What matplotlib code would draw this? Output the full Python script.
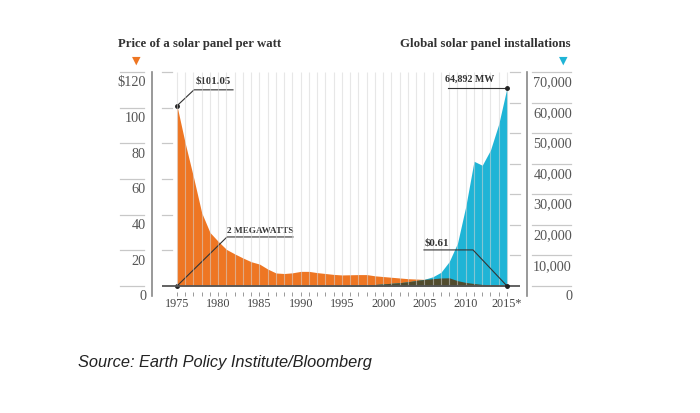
import matplotlib
matplotlib.use("Agg")
import matplotlib.pyplot as plt
import matplotlib.transforms as mtransforms
import numpy as np

# data
years = np.arange(1975, 2016)
price = [101.05, 80, 61, 41, 30, 25, 20.5, 18, 15.7, 13.6,
         12.3, 9.5, 7.3, 7.0, 7.4, 8.2, 8.2, 7.5, 7.0, 6.5,
         6.2, 6.3, 6.4, 6.4, 5.7, 5.3, 4.9, 4.5, 4.1, 3.9,
         3.7, 4.1, 4.5, 4.6, 3.0, 2.0, 1.4, 0.9, 0.75, 0.7,
         0.61]
installs = [2, 3, 4, 5, 7, 10, 12, 15, 20, 25,
            30, 35, 40, 45, 50, 55, 60, 70, 80, 100,
            200, 250, 320, 400, 500, 700, 900, 1100, 1400, 1800,
            2200, 3000, 4500, 8000, 14000, 26000, 40800, 39500, 44500, 53000,
            64892]
price_ticks = [0, 20, 40, 60, 80, 100, 120]
price_labels = ["0", "20", "40", "60", "80", "100", "$120"]
mw_ticks = [0, 10000, 20000, 30000, 40000, 50000, 60000, 70000]
year_labels = ["1975", "1980", "1985", "1990", "1995", "2000", "2005", "2010", "2015*"]

ORANGE = "#ee7623"
BLUE = "#1fb4d6"
DARK = "#514c2e"
GRID = "#d4d4d4"
TEXT = "#555555"
SERIF = "Liberation Serif"

W, H = 700, 414
fig = plt.figure(figsize=(7.0, 4.14), dpi=100)

def fx(px):
    return px / W

def fy(py):
    return 1 - py / H

ax = fig.add_axes([fx(152), fy(297), fx(527) - fx(152), fy(73) - fy(297)])
ymin = -120 * 10 / 214
ax.set_xlim(1975 - 25 / 8.25, 2015 + 20 / 8.25)
ax.set_ylim(ymin, 120)
ax2 = ax.twinx()
mw_per_dollar = 70000 / 120
ax2.set_ylim(ymin * mw_per_dollar, 70000)

for a in (ax, ax2):
    a.set_xticks([])
    a.set_yticks([])
    for s in a.spines.values():
        s.set_visible(False)
ax.spines["left"].set_visible(True)
ax.spines["left"].set_color("#888888")
ax.spines["left"].set_linewidth(1.2)
ax2.spines["right"].set_visible(True)
ax2.spines["right"].set_color("#888888")
ax2.spines["right"].set_linewidth(1.2)

price = np.array(price)
installs = np.array(installs)
price_mw = price * mw_per_dollar

ax.fill_between(years, 0, price, color=ORANGE, lw=0, zorder=1)
ax2.fill_between(years, 0, installs, color=BLUE, lw=0, zorder=1)
ax2.fill_between(years, 0, np.minimum(installs, price_mw), color=DARK, lw=0, zorder=2)

# year grid lines drawn over the areas
ax2.vlines(years, 0, 70000, color=GRID, lw=0.8, alpha=0.55, zorder=3)
ax2.hlines(0, 1975 - 15 / 8.25, 2015 + 13 / 8.25, color="#555555", lw=1.3, zorder=4)

# bottom year ticks
ax.vlines(years, -5.4, -3.3, color="#999999", lw=0.7, clip_on=False)
for lab in year_labels:
    yr = int(lab[:4])
    ax.text(yr, -6.3, lab, ha="center", va="top", fontsize=8.7, family=SERIF,
            color="#444444")

# left scale: labels and short lines
tl = mtransforms.blended_transform_factory(fig.transFigure, ax.transData)
for v, lab in zip(price_ticks, price_labels):
    ax.text(fx(146), v - 1.8, lab, transform=tl, ha="right", va="top",
            fontsize=10.3, family=SERIF, color=TEXT)
    ax.plot([fx(120), fx(144)], [v, v], transform=tl, color="#c8c8c8", lw=0.9,
            clip_on=False)
    if v > 0:
        ax.plot([fx(162), fx(172)], [v, v], transform=tl, color="#c8c8c8", lw=0.9,
                clip_on=False)

# right scale
tr = mtransforms.blended_transform_factory(fig.transFigure, ax2.transData)
for v in mw_ticks:
    ax2.text(fx(572), v - 1100, f"{v:,}", transform=tr, ha="right", va="top",
             fontsize=10.3, family=SERIF, color=TEXT)
    ax2.plot([fx(532), fx(571)], [v, v], transform=tr, color="#c8c8c8", lw=0.9,
             clip_on=False)
    if v > 0:
        ax2.plot([fx(510), fx(520)], [v, v], transform=tr, color="#c8c8c8", lw=0.9,
                 clip_on=False)

# annotations
ax.plot([1975, 1975 + 17 / 8.25, 1975 + 56 / 8.25], [price[0], 110, 110],
        color="#333333", lw=0.8, zorder=5, clip_on=False)
ax.plot(1975, price[0], "o", ms=2.5, color="#222222", zorder=6)
ax.text(1975 + 36 / 8.25, 113, "$101.05", ha="center", va="bottom", fontsize=7.8,
        fontweight="bold", family=SERIF, color="#333333")

ax.plot([1975, 1975 + 50 / 8.25, 1975 + 116 / 8.25], [0, 27.5, 27.5],
        color="#333333", lw=0.8, zorder=5, clip_on=False)
ax.plot(1975, 0, "o", ms=2.5, color="#222222", zorder=6)
ax.text(1975 + 83 / 8.25, 29.3, "2 MEGAWATTS", ha="center", va="bottom",
        fontsize=6.7, fontweight="bold", family=SERIF, color="#333333")

ax2.plot([2015 - 83 / 8.25, 2015 - 34 / 8.25, 2015], [11800, 11800, 0],
         color="#333333", lw=0.8, zorder=5)
ax2.plot(2015, 0, "o", ms=2.5, color="#222222", zorder=6)
ax2.text(2015 - 70 / 8.25, 13000, "$0.61", ha="center", va="bottom", fontsize=7.8,
         fontweight="bold", family=SERIF, color="#333333")

ax2.plot([2015 - 59 / 8.25, 2015], [installs[-1], installs[-1]],
         color="#333333", lw=0.8, zorder=5)
ax2.plot(2015, installs[-1], "o", ms=2.5, color="#222222", zorder=6)
ax2.text(2015 - 37 / 8.25, 66600, "64,892 MW", ha="center", va="bottom",
         fontsize=7.2, fontweight="bold", family=SERIF, color="#333333")

# headers with the little colour keys
fig.text(fx(118), fy(44), "Price of a solar panel per watt", ha="left", va="center",
         fontsize=9.2, fontweight="bold", family=SERIF, color="#333333")
fig.text(fx(571), fy(44), "Global solar panel installations", ha="right", va="center",
         fontsize=9.3, fontweight="bold", family=SERIF, color="#333333")
fig.text(fx(136), fy(61), "\u25BC", ha="center", va="center", fontsize=8,
         color=ORANGE, family="DejaVu Sans")
fig.text(fx(563), fy(61), "\u25BC", ha="center", va="center", fontsize=8,
         color=BLUE, family="DejaVu Sans")

fig.text(fx(78), fy(363), "Source: Earth Policy Institute/Bloomberg", ha="left",
         va="center", fontsize=11.8, style="italic", family="Liberation Sans",
         color="#222222")

fig.savefig("out.png", dpi=100)
